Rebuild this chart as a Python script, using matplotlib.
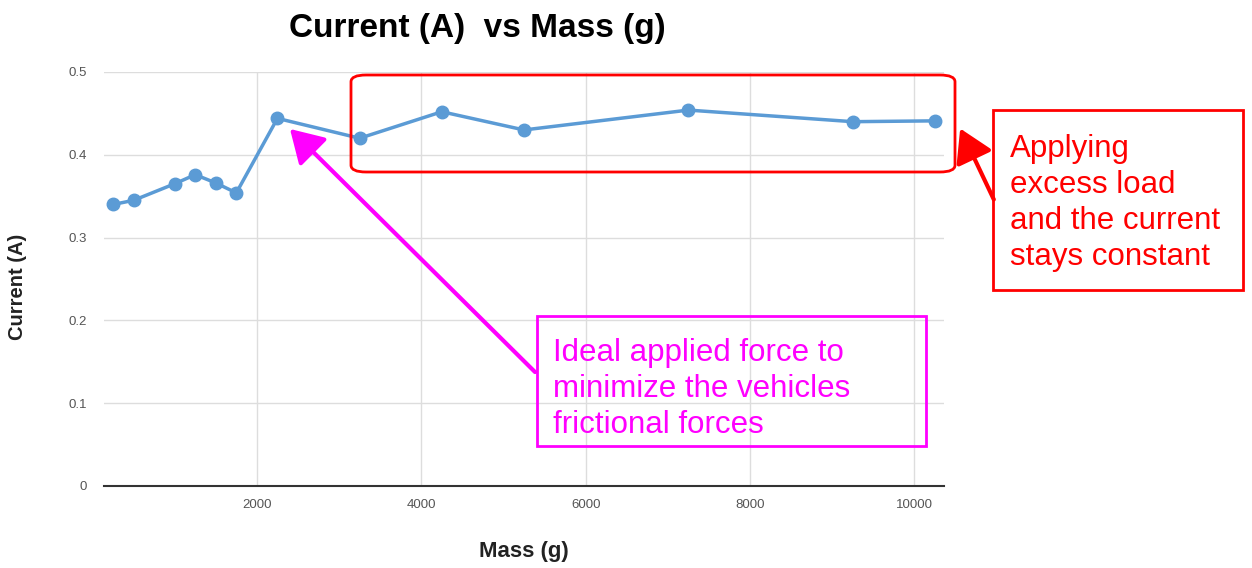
import matplotlib.pyplot as plt
import matplotlib.patches as patches

plt.rcParams['font.family'] = ['Liberation Sans', 'DejaVu Sans']

mass = [250, 500, 1000, 1250, 1500, 1750, 2250, 3250, 4250, 5250, 7250, 9250, 10250]
current = [0.340, 0.345, 0.365, 0.376, 0.366, 0.354, 0.444, 0.420, 0.452, 0.430, 0.454, 0.440, 0.441]
xticks = [2000, 4000, 6000, 8000, 10000]
yticks = [0, 0.1, 0.2, 0.3, 0.4, 0.5]

W, H = 1252, 568
fig = plt.figure(figsize=(W / 100, H / 100), dpi=100)
ax = fig.add_axes([104 / W, 1 - 486 / H, (944 - 104) / W, (486 - 72) / H])

ax.plot(mass, current, color='#5b9bd5', lw=2.5, marker='o', ms=9, zorder=3)
ax.set_xlim(140, 10360)
ax.set_ylim(0, 0.5)
ax.set_xticks(xticks)
ax.set_yticks(yticks)
ax.set_yticklabels(['0', '0.1', '0.2', '0.3', '0.4', '0.5'])
ax.grid(True, color='#dddddd', lw=1)
ax.set_axisbelow(True)
for s in ['top', 'right', 'left']:
    ax.spines[s].set_visible(False)
ax.spines['bottom'].set_color('#333333')
ax.spines['bottom'].set_linewidth(1.5)
ax.tick_params(length=0, labelsize=9.5, labelcolor='#555555')
ax.tick_params(axis='x', pad=9)
ax.tick_params(axis='y', pad=12)

fig.text(477 / W, 1 - 28 / H, 'Current (A)  vs Mass (g)', ha='center', va='center',
         fontsize=24, fontweight='bold')
fig.text(18 / W, 1 - 287 / H, 'Current (A)', rotation=90, ha='center', va='center',
         fontsize=14.5, fontweight='bold', color='#222222')
fig.text(524 / W, 1 - 552 / H, 'Mass (g)', ha='center', va='center',
         fontsize=16, fontweight='bold', color='#222222')


def px(x, y):
    return x / W, 1 - y / H


# red rounded box around the plateau
x0, y0 = px(351, 172)
x1, y1 = px(955, 75)
fig.add_artist(patches.FancyBboxPatch((x0, y0), x1 - x0, y1 - y0,
                                      boxstyle='round,pad=0,rounding_size=0.012',
                                      transform=fig.transFigure, fill=False,
                                      ec='#ff0000', lw=2))

# red note
x0, y0 = px(993, 290)
x1, y1 = px(1243, 110)
fig.add_artist(patches.Rectangle((x0, y0), x1 - x0, y1 - y0, transform=fig.transFigure,
                                 fill=False, ec='#ff0000', lw=2))
fig.text(1010 / W, 1 - 203 / H, 'Applying\nexcess load\nand the current\nstays constant',
         color='#ff0000', fontsize=22.5, va='center', ha='left', linespacing=1.26)
fig.add_artist(patches.FancyArrowPatch(px(995, 202), px(959, 126), transform=fig.transFigure,
                                       arrowstyle='-|>,head_length=10,head_width=6',
                                       color='#ff0000', lw=3, mutation_scale=2))

# magenta note
x0, y0 = px(537, 446)
x1, y1 = px(926, 316)
fig.add_artist(patches.Rectangle((x0, y0), x1 - x0, y1 - y0, transform=fig.transFigure,
                                 fill=False, ec='#ff00ff', lw=2))
fig.text(553 / W, 1 - 389 / H, 'Ideal applied force to\nminimize the vehicles\nfrictional forces',
         color='#ff00ff', fontsize=22.5, va='center', ha='left', linespacing=1.26)
fig.add_artist(patches.FancyArrowPatch(px(537, 374), px(288, 127), transform=fig.transFigure,
                                       arrowstyle='-|>,head_length=10,head_width=6',
                                       color='#ff00ff', lw=3, mutation_scale=2))

fig.savefig('out.png', dpi=100)
